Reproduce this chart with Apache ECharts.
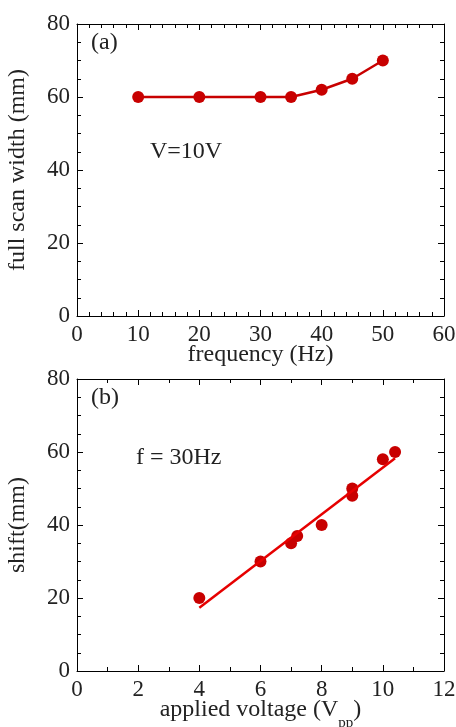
<!DOCTYPE html>
<html><head><meta charset="utf-8">
<script src="https://cdn.jsdelivr.net/npm/echarts@6/dist/echarts.min.js"></script>
<style>html,body{margin:0;padding:0;background:#fff}#c{width:456px;height:727px}</style>
</head><body><div id="c"></div>
<script>
// Panel (a): full scan width vs frequency at V=10V
var freqHz = [10, 20, 30, 35, 40, 45, 50];
var scanWidthMm = [60, 60, 60, 60, 62, 65, 70];
// Panel (b): shift vs applied voltage at f=30Hz
var voltageVpp = [4, 6, 7, 7.2, 8, 9, 9, 10, 10.4];
var shiftMm = [20, 30, 35, 37, 40, 50, 48, 58, 60];
// linear fit line endpoints
var fitX = [4, 10.4];
var fitY = [17.3, 58.3];

var FONT = "'Liberation Serif', 'Times New Roman', serif";
var TXT = '#222';
var FS = 23;

function axisCommon(grid, pos, min, max, interval, split, name, nameGap, showLabel, nameObj) {
  return {
    type: 'value', gridIndex: grid, position: pos, min: min, max: max, interval: interval,
    name: showLabel ? name : '', nameLocation: 'middle', nameGap: nameGap,
    nameMoveOverlap: false,
    nameTextStyle: nameObj || {fontFamily: FONT, fontSize: 24, color: TXT},
    axisLine: {show: true, onZero: false, lineStyle: {color: '#000', width: 1}},
    axisTick: {show: true, inside: true, length: 6, lineStyle: {color: '#000'}},
    minorTick: {show: true, splitNumber: split, length: 4, lineStyle: {color: '#000'}},
    axisLabel: {show: showLabel, fontFamily: FONT, fontSize: FS, color: TXT, margin: 7},
    splitLine: {show: false}, minorSplitLine: {show: false}
  };
}

var chart = echarts.init(document.getElementById('c'));
var voltName = {
  fontFamily: FONT, fontSize: 24, color: TXT,
  rich: {
    a: {fontFamily: FONT, fontSize: 24, color: TXT, lineHeight: 26, verticalAlign: 'middle'},
    s: {fontFamily: FONT, fontSize: 15, color: TXT, lineHeight: 42, verticalAlign: 'bottom'}
  }
};
chart.setOption({
  animation: false,
  grid: [
    {left: 77, top: 24, width: 367, height: 292, outerBoundsMode: 'none', containLabel: false},
    {left: 77, top: 379, width: 367, height: 292, outerBoundsMode: 'none', containLabel: false}
  ],
  xAxis: [
    axisCommon(0, 'bottom', 0, 60, 10, 5, 'frequency (Hz)', 27, true),
    axisCommon(0, 'top', 0, 60, 10, 5, '', 0, false),
    axisCommon(1, 'bottom', 0, 12, 2, 2, '{a|applied voltage (V}{s|pp}{a|)}', 18, true, voltName),
    axisCommon(1, 'top', 0, 12, 2, 2, '', 0, false)
  ],
  yAxis: [
    axisCommon(0, 'left', 0, 80, 20, 4, 'full scan width (mm)', 47, true),
    axisCommon(0, 'right', 0, 80, 20, 4, '', 0, false),
    axisCommon(1, 'left', 0, 80, 20, 4, 'shift(mm)', 47, true),
    axisCommon(1, 'right', 0, 80, 20, 4, '', 0, false)
  ],
  graphic: [
    {type: 'text', left: 91, top: 31, style: {text: '(a)', font: '24px ' + FONT, fill: TXT}},
    {type: 'text', left: 150, top: 140, style: {text: 'V=10V', font: '24px ' + FONT, fill: TXT}},
    {type: 'text', left: 91, top: 386, style: {text: '(b)', font: '24px ' + FONT, fill: TXT}},
    {type: 'text', left: 136, top: 446, style: {text: 'f = 30Hz', font: '24px ' + FONT, fill: TXT}}
  ],
  series: [
    {
      type: 'line', xAxisIndex: 0, yAxisIndex: 0,
      data: freqHz.map(function (f, i) { return [f, scanWidthMm[i]]; }),
      symbol: 'circle', symbolSize: 12,
      lineStyle: {color: '#c80000', width: 2.5},
      itemStyle: {color: '#c80000'}
    },
    {
      type: 'line', xAxisIndex: 2, yAxisIndex: 2,
      data: fitX.map(function (x, i) { return [x, fitY[i]]; }),
      symbol: 'none',
      lineStyle: {color: '#e60000', width: 2.5}
    },
    {
      type: 'scatter', xAxisIndex: 2, yAxisIndex: 2,
      data: voltageVpp.map(function (v, i) { return [v, shiftMm[i]]; }),
      symbol: 'circle', symbolSize: 12,
      itemStyle: {color: '#c80000', opacity: 1}
    }
  ]
});
</script></body></html>
